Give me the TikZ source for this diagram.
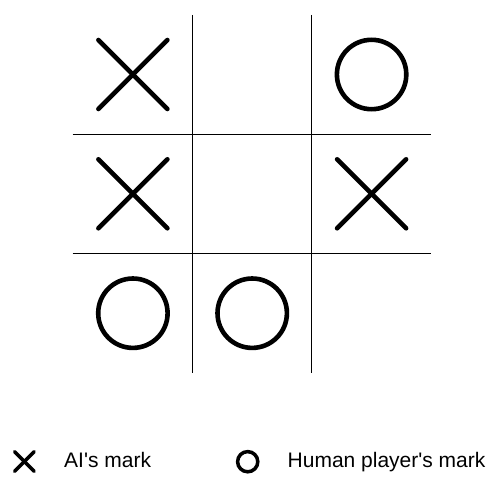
\documentclass[tikz,border=0pt]{standalone}
\usepackage{fontspec}
\setmainfont{Liberation Sans}[Ligatures=TeXOff]
\usetikzlibrary{calc}
\begin{document}
\begin{tikzpicture}[x=1pt,y=-1pt,
  gridline/.style={line width=1.3pt, black},
  xmark/.style={line width=4.6pt, line cap=round},
  omark/.style={line width=4.6pt},
  lxmark/.style={line width=3.5pt, line cap=round},
  lomark/.style={line width=3.5pt},
  legtext/.style={anchor=base west, inner sep=0pt, font=\fontsize{21}{25}\selectfont}]
\useasboundingbox (0,0) rectangle (500,489);
% grid
\coordinate (v1t) at (192.7,15);
\coordinate (v1b) at (192.7,373);
\coordinate (v2t) at (311.7,15);
\coordinate (v2b) at (311.7,373);
\coordinate (h1l) at (72.7,134.3);
\coordinate (h1r) at (431,134.3);
\coordinate (h2l) at (72.7,253.3);
\coordinate (h2r) at (431,253.3);
\draw[gridline] (v1t) -- (v1b);
\draw[gridline] (v2t) -- (v2b);
\draw[gridline] (h1l) -- (h1r);
\draw[gridline] (h2l) -- (h2r);
% cell centres
\coordinate (c00) at (132.9,74.5);
\coordinate (c02) at (371.6,74.5);
\coordinate (c10) at (132.9,193.8);
\coordinate (c12) at (371.6,193.8);
\coordinate (c20) at (132.9,313.2);
\coordinate (c21) at (252.2,313.2);
% X marks
\foreach \c in {c00,c10,c12}{
  \draw[xmark] ($(\c)+(-34.5,-34.5)$) -- ($(\c)+(34.5,34.5)$);
  \draw[xmark] ($(\c)+(-34.5,34.5)$) -- ($(\c)+(34.5,-34.5)$);
}
% O marks
\foreach \c in {c02,c20,c21}{
  \draw[omark] (\c) circle[radius=34.7];
}
% legend
\coordinate (lx) at (24.3,461.5);
\coordinate (lo) at (247.7,461.7);
\draw[lxmark] ($(lx)+(-9.8,-9.8)$) -- ($(lx)+(9.8,9.8)$);
\draw[lxmark] ($(lx)+(-9.8,9.8)$) -- ($(lx)+(9.8,-9.8)$);
\draw[lomark] (lo) circle[radius=10.1];
\node[legtext] (tai) at (64,467.3) {AI's mark};
\node[legtext] (thu) at (287.5,467.3) {Human player's mark};
\end{tikzpicture}
\end{document}
